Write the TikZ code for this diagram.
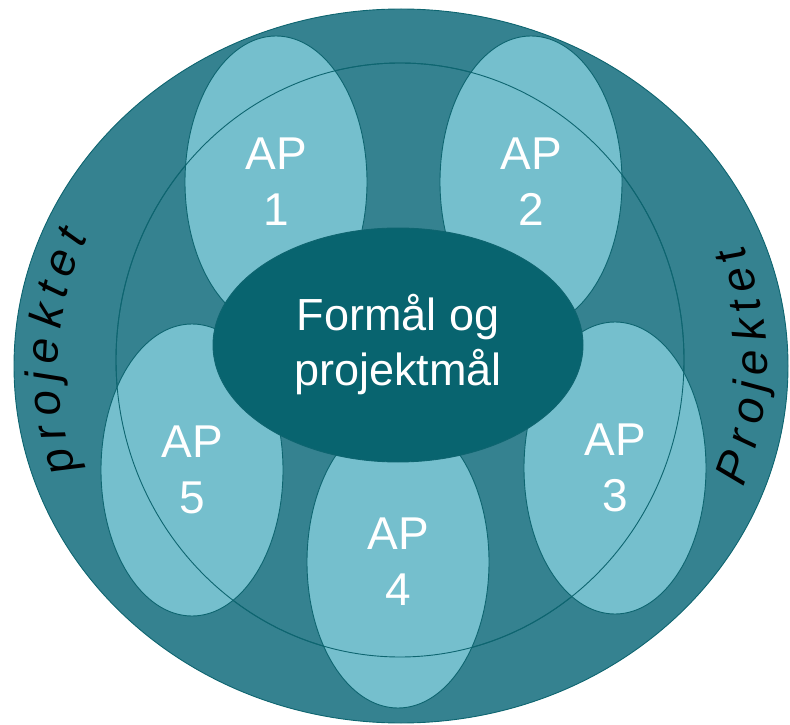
\documentclass[tikz,border=0pt]{standalone}
\usepackage{fontspec}
\setmainfont{Liberation Sans}
\usetikzlibrary{shapes.geometric,decorations.text}
\definecolor{ringteal}{RGB}{53,130,144}
\definecolor{apblue}{RGB}{117,191,205}
\definecolor{coreteal}{RGB}{8,100,111}
\definecolor{lineteal}{RGB}{14,101,112}
\begin{document}
\begin{tikzpicture}[x=1pt,y=1pt,
    base/.style={ellipse,draw=lineteal,line width=0.9pt,inner sep=0pt},
    ring node/.style={base,fill=ringteal},
    ap node/.style={base,fill=apblue,text=white,align=center,minimum width=182pt,minimum height=292pt,font=\fontsize{46}{56}\selectfont},
    core node/.style={base,fill=coreteal,text=white,align=center,font=\fontsize{45}{55}\selectfont},
    side text/.style={decorate,decoration={text effects along path,text={#1},text effects/.cd,text along path,fit text to path,characters={text=black,font=\fontsize{46}{46}\selectfont\itshape}}}]
    \useasboundingbox (0,0) rectangle (790,724);
    \node[ring node,minimum width=774pt,minimum height=714pt] (outer) at (401,358) {};
    \node[ring node,minimum width=568pt,minimum height=594pt] (ring) at (400,364) {};

    \node[ap node] (ap1) at (276,542) {AP\\1};
    \node[ap node] (ap2) at (531,542) {AP\\2};
    \node[ap node] (ap3) at (615,256) {AP\\3};
    \node[ap node] (ap4) at (398,162) {AP\\4};
    \node[ap node] (ap5) at (192,254) {AP\\5};
    \draw[lineteal,line width=0.9pt] (ring.center) ellipse [x radius=284pt,y radius=297pt];

    \node[core node,minimum width=370pt,minimum height=234pt] (core) at (398,379) {Formål og\\projektmål};

    \path[side text=projektet] ([shift={(199:343pt and 317pt)}]outer.center)
        arc [start angle=199,end angle=156,x radius=343pt,y radius=317pt];
    \path[side text=Projektet] ([shift={(-21:366pt and 338pt)}]outer.center)
        arc [start angle=-21,end angle=21,x radius=366pt,y radius=338pt];
\end{tikzpicture}
\end{document}
